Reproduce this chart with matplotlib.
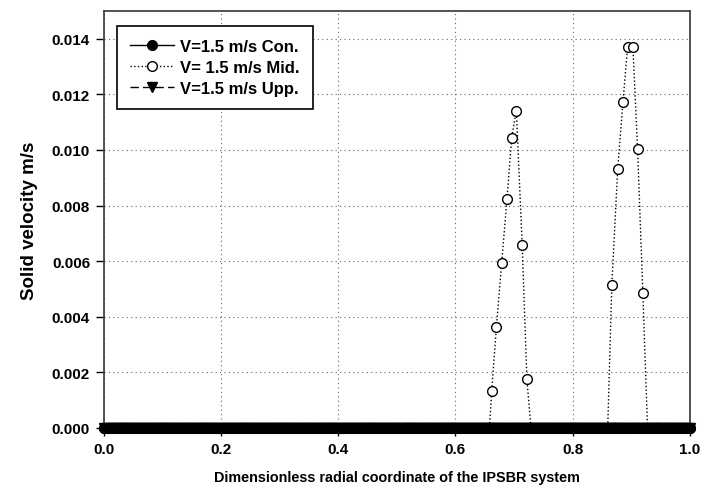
import numpy as np
import matplotlib
matplotlib.use("Agg")
import matplotlib.pyplot as plt

plt.rcParams['font.family'] = ['Liberation Sans', 'DejaVu Sans']
plt.rcParams['font.weight'] = 'bold'

# Baseline grid (all zero values) for Con. and Upp. series
base_x = np.linspace(0.0, 1.0, 201)
con_y = np.zeros_like(base_x)
upp_y = np.zeros_like(base_x)

# Mid series: zero baseline plus two peaks
mid_base_x = np.linspace(0.0, 1.0, 121)
peak1_x = [0.658, 0.662, 0.670, 0.679, 0.688, 0.696, 0.704, 0.714, 0.722, 0.729]
peak1_y = [0.0, 0.00134, 0.00364, 0.00594, 0.00822, 0.01043, 0.01142, 0.0066, 0.00176, 0.0]
peak2_x = [0.860, 0.867, 0.877, 0.886, 0.894, 0.903, 0.911, 0.920, 0.928]
peak2_y = [0.0, 0.00513, 0.00930, 0.01172, 0.01372, 0.01372, 0.01003, 0.00487, 0.0]

mx = [x for x in mid_base_x if x < peak1_x[0] or (peak1_x[-1] < x < peak2_x[0]) or x > peak2_x[-1]]
mid_x = np.array(sorted(mx + peak1_x + peak2_x))
lookup = dict(zip(peak1_x + peak2_x, peak1_y + peak2_y))
mid_y = np.array([lookup.get(x, 0.0) for x in mid_x])

fig = plt.figure(figsize=(7.04, 4.89), dpi=100)
ax = fig.add_axes([0.1477, 0.1227, 0.832, 0.8528])

ax.plot(mid_x, mid_y, linestyle=':', color='black', lw=1.0, marker='o',
        markersize=7, markerfacecolor='white', markeredgecolor='black',
        markeredgewidth=1.0, label='V= 1.5 m/s Mid.', zorder=3, clip_on=False)
ax.plot(base_x, con_y, linestyle='-', color='black', lw=1.0, marker='o',
        markersize=7, markerfacecolor='black', markeredgecolor='black',
        label='V=1.5 m/s Con.', zorder=4, clip_on=False)
ax.plot(base_x, upp_y, linestyle=(0, (6, 3)), color='black', lw=1.0, marker='v',
        markersize=7, markerfacecolor='black', markeredgecolor='black',
        label='V=1.5 m/s Upp.', zorder=5, clip_on=False)

ax.set_xlim(0.0, 1.0)
ax.set_ylim(0.0, 0.015)
ax.set_xticks([0.0, 0.2, 0.4, 0.6, 0.8, 1.0])
ax.set_yticks([0.000, 0.002, 0.004, 0.006, 0.008, 0.010, 0.012, 0.014])
ax.xaxis.set_major_formatter(matplotlib.ticker.FormatStrFormatter('%.1f'))
ax.yaxis.set_major_formatter(matplotlib.ticker.FormatStrFormatter('%.3f'))
ax.tick_params(axis='both', direction='out', length=6, width=1, labelsize=11, colors='black', pad=4)
for lbl in ax.get_xticklabels() + ax.get_yticklabels():
    lbl.set_fontweight('bold')

ax.grid(True, linestyle=(0, (1, 3)), color='#666666', lw=0.8)
ax.set_axisbelow(True)
for s in ax.spines.values():
    s.set_color('#444444')
    s.set_linewidth(1.3)

ax.set_xlabel('Dimensionless radial coordinate of the IPSBR system', fontsize=10.4, fontweight='bold', labelpad=10)
ax.set_ylabel('Solid velocity m/s', fontsize=13.5, fontweight='bold', labelpad=10)

handles, labels = ax.get_legend_handles_labels()
order = [1, 0, 2]
leg = ax.legend([handles[i] for i in order], [labels[i] for i in order],
                loc='upper left', bbox_to_anchor=(0.022, 0.964), borderaxespad=0,
                fancybox=False, edgecolor='black', framealpha=1, handlelength=2.6,
                handletextpad=0.4, borderpad=0.8, labelspacing=0.35,
                prop={'weight': 'bold', 'size': 12})
leg.get_frame().set_linewidth(1.2)

fig.savefig('out.png', dpi=100)
